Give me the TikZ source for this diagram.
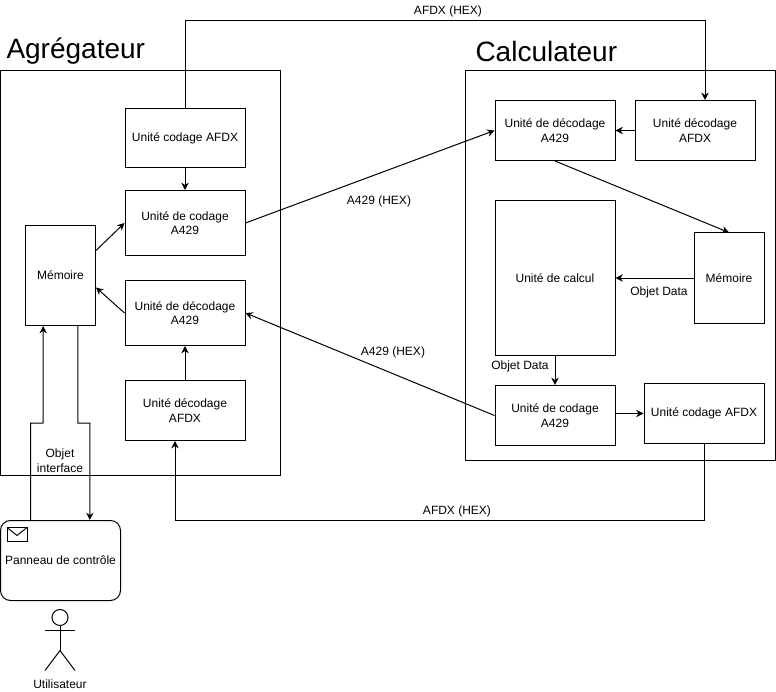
\documentclass[tikz,border=0pt]{standalone}
\usepackage{fontspec}
\setmainfont{Liberation Sans}
\usetikzlibrary{arrows.meta, positioning}
\begin{document}
\begin{tikzpicture}[x=0.75pt, y=-0.75pt, line width=0.75pt,
block/.style={rectangle, draw=black, fill=white, inner sep=0pt, align=center, font=\fontsize{9}{11}\selectfont, minimum width=90pt, minimum height=45pt},
memory/.style={block, minimum width=52.5pt},
frame/.style={rectangle, draw=black, inner sep=0pt},
title/.style={font=\fontsize{21}{24}\selectfont, inner sep=0pt},
lbl/.style={font=\fontsize{9}{11}\selectfont, inner sep=0pt, align=center},
arrow/.style={-{Stealth[length=5.5pt, width=5.5pt]}, black}]
\useasboundingbox (0,0) rectangle (776,692);
\node[frame, minimum width=210pt, minimum height=303.75pt] (agg) at (140.5,273) {};
\node[frame, minimum width=232.5pt, minimum height=292.5pt] (calc) at (620,265.5) {};
\node[title, anchor=west] (aggTitle) at (6,51) {Agrégateur};
\node[title, anchor=west] (calcTitle) at (475,51) {Calculateur};
\node[block, minimum height=44.25pt] (aggCodeAfdx) at (185,138) {Unité codage AFDX};
\node[block, minimum height=48.75pt] (aggCodeA) at (185,223) {Unité de codage\\A429};
\node[block, minimum height=48.75pt] (aggDecA) at (185,313) {Unité de décodage\\A429};
\node[block] (aggDecAfdx) at (185,410.5) {Unité décodage\\AFDX};
\node[memory, minimum height=75pt] (aggMem) at (60.5,275.5) {Mémoire};
\node[block] (calcDecA) at (555,130.5) {Unité de décodage\\A429};
\node[block] (calcDecAfdx) at (695,130.5) {Unité décodage\\AFDX};
\node[block, minimum height=116.25pt] (calcUnit) at (555,278) {\raisebox{-2.25pt}{Unité de calcul}};
\node[memory, minimum height=67.5pt] (calcMem) at (729,278) {Mémoire};
\node[block] (calcCodeA) at (555,415.5) {Unité de codage\\A429};
\node[block] (calcCodeAfdx) at (704,413.5) {Unité codage AFDX};
\node[block, rounded corners=7.5pt, minimum height=60pt] (panel) at (60.5,560.5) {Panneau de contrôle};
\coordinate (afdxTop) at (185,20.5);
\coordinate (afdxBottom) at (175,520.5);
\coordinate (panelUp) at (43,423);
\coordinate (panelDown) at (90,423);
\draw[arrow] (aggCodeAfdx.north) -- (afdxTop) -| ([xshift=7.5pt]calcDecAfdx.north);
\draw[arrow] (aggCodeAfdx) -- (aggCodeA);
\draw[arrow] (aggCodeA.east) -- (calcDecA.west);
\draw[arrow] (calcDecAfdx) -- (calcDecA);
\draw[arrow] (calcDecA.south) -- (calcMem.north);
\draw[arrow] (calcMem) -- (calcUnit);
\draw[arrow] (calcUnit) -- (calcCodeA);
\draw[arrow] ([yshift=1.5pt]calcCodeA.east) -- (calcCodeAfdx.west);
\draw[arrow] (calcCodeA.west) -- (aggDecA.east);
\draw[arrow] (calcCodeAfdx.south) |- (afdxBottom) -- ([xshift=-7.5pt]aggDecAfdx.south);
\draw[arrow] (aggDecAfdx) -- (aggDecA);
\draw[arrow] (aggDecA.west) -- ([yshift=-9pt]aggMem.east);
\draw[arrow] ([yshift=18.75pt]aggMem.east) -- (aggCodeA.west);
\draw[arrow] ([xshift=-22.5pt]panel.north) |- (panelUp) -- ([xshift=-13pt]aggMem.south);
\draw[arrow] ([xshift=13pt]aggMem.south) |- (panelDown) -- ([xshift=22pt]panel.north);
\node[lbl] (afdxTopLbl) at (448,11) {AFDX (HEX)};
\node[lbl] (afdxBottomLbl) at (457,511) {AFDX (HEX)};
\node[lbl] (a429Top) at (379,201) {A429 (HEX)};
\node[lbl] (a429Bottom) at (393,352) {A429 (HEX)};
\node[lbl] (dataMem) at (659,292) {Objet Data};
\node[lbl] (dataUnit) at (520,366) {Objet Data};
\node[lbl] (objInterface) at (60,460.5) {Objet\\interface};
\node[lbl] (userLbl) at (60,684) {Utilisateur};
\draw (7,527.5) rectangle (27,541.5);
\draw (7,527.5) -- (17,535.5) -- (27,527.5);
\draw (60,617.5) circle (6pt);
\draw (60,625.5) -- (60,650.5);
\draw (45,630.5) -- (75,630.5);
\draw (45,670.5) -- (60,650.5) -- (75,670.5);
\end{tikzpicture}
\end{document}
